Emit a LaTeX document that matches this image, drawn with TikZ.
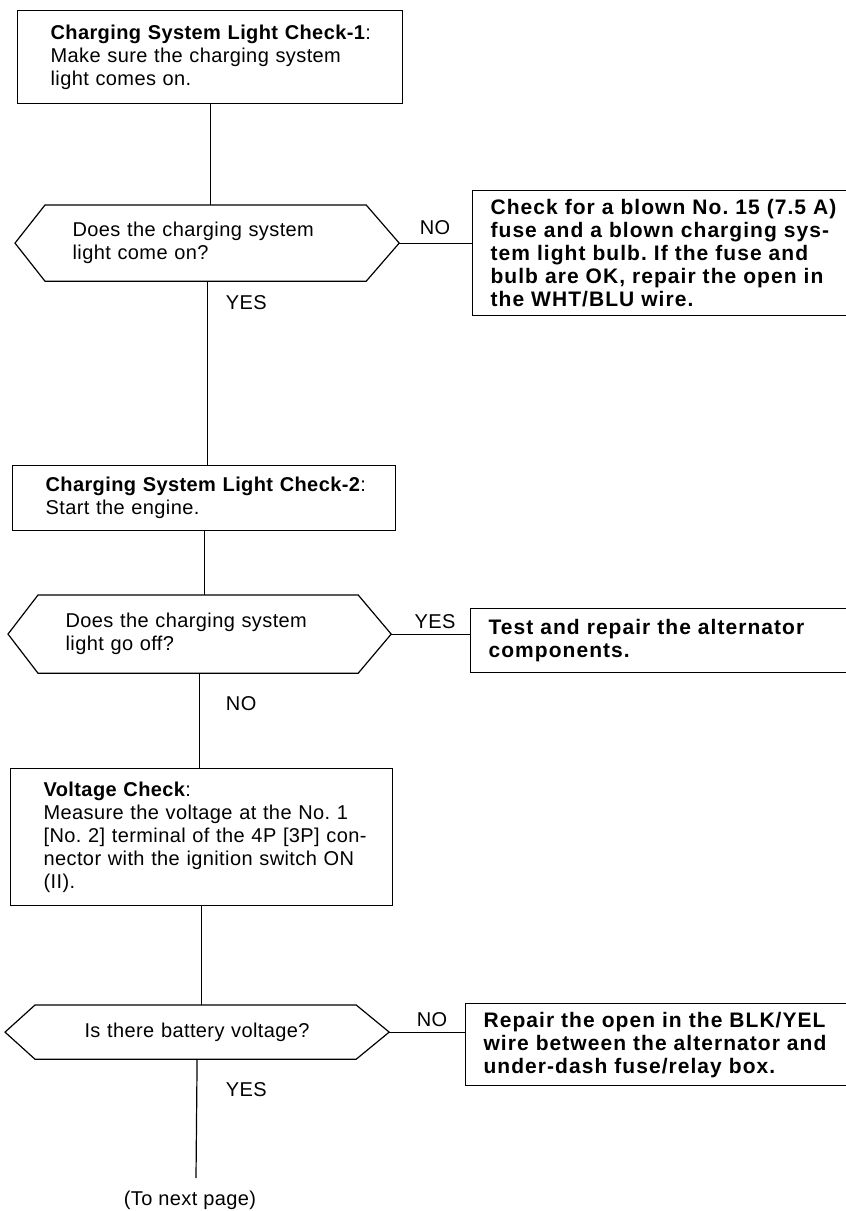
\documentclass[tikz,border=0pt]{standalone}
\usepackage{fontspec}
\setmainfont[LetterSpace=2]{Liberation Sans}
\frenchspacing
\newcommand\actionfont{\fontsize{21}{23}\selectfont\bfseries\addfontfeatures{LetterSpace=5}}
\newcommand\askshape[1]{\draw ([xshift=30pt]#1.north west) -- ([xshift=-33pt]#1.north east) -- (#1.east)
  -- ([xshift=-33pt]#1.south east) -- ([xshift=30pt]#1.south west) -- (#1.west) -- cycle;}

\begin{document}
\begin{tikzpicture}[x=1pt, y=-1pt, line width=1.2pt,
  every node/.style={font=\fontsize{20}{23}\selectfont},
  stepbox/.style={draw, anchor=north west, align=left, inner xsep=33pt, inner ysep=0pt},
  askbox/.style={anchor=north west, align=left, inner xsep=57pt, inner ysep=0pt},
  fixbox/.style={draw, anchor=north west, align=left, inner xsep=18pt, inner ysep=0pt,
    text width=370pt, font=\actionfont}]
  \useasboundingbox (0,0) rectangle (846,1211);
  \clip (0,0) rectangle (846,1211);

  \node[stepbox, text width=319pt, minimum height=93pt] (check1) at (17,10)
    {\mbox{\textbf{Charging System Light Check-1}:}\\Make sure the charging system\\light comes on.};
  \node[askbox, text width=269pt, minimum width=383pt, minimum height=75pt] (ask1) at (15,205)
    {Does the charging system\\light come on?};
  \askshape{ask1}
  \node[fixbox, minimum height=125pt] (fuse) at (472,190)
    {Check for a blown No. 15 (7.5 A)\\fuse and a blown charging sys-\\tem light bulb. If the fuse and\\bulb are OK, repair the open in\\the WHT/BLU wire.};

  \node[stepbox, text width=317pt, minimum height=65pt] (check2) at (12,465)
    {\mbox{\textbf{Charging System Light Check-2}:}\\Start the engine.};
  \node[askbox, text width=268pt, minimum width=382pt, minimum height=77pt] (ask2) at (8,595)
    {Does the charging system\\light go off?};
  \askshape{ask2}
  \node[fixbox, minimum height=64pt] (alt) at (470,608)
    {Test and repair the alternator\\components.};

  \node[stepbox, text width=316pt, minimum height=137pt] (volt) at (10,768)
    {\textbf{Voltage Check}:\\\mbox{Measure the voltage at the No. 1}\\\mbox{[No. 2] terminal of the 4P [3P] con-}\\\mbox{nector with the ignition switch ON}\\(II).};
  \node[askbox, align=center, text width=269pt, minimum width=383pt, minimum height=53pt] (ask3) at (5,1005)
    {Is there battery voltage?};
  \askshape{ask3}
  \node[fixbox, minimum height=82pt] (wire) at (465,1003)
    {Repair the open in the BLK/YEL\\wire between the alternator and\\under-dash fuse/relay box.};

  \coordinate (tail) at (196,1178);
  \node (next) at (190,1200) {(To next page)};

  \draw (check1.south) -- (check1.south |- ask1.north);
  \draw (ask1.south) -- (ask1.south |- check2.north);
  \draw (check2.south) -- (check2.south |- ask2.north);
  \draw (ask2.south) -- (ask2.south |- volt.north);
  \draw (volt.south) -- (volt.south |- ask3.north);
  \draw (ask3.south) -- (tail);
  \draw (ask1.east) -- (ask1.east -| fuse.west);
  \draw (ask2.east) -- (ask2.east -| alt.west);
  \draw (ask3.east) -- (ask3.east -| wire.west);

  \node (no1) at (435,228) {NO};
  \node[anchor=west] (yes1) at (222,303) {YES};
  \node (yes2) at (435,622) {YES};
  \node[anchor=west] (no2) at (222,704) {NO};
  \node (no3) at (432,1020) {NO};
  \node[anchor=west] (yes3) at (222,1090) {YES};
\end{tikzpicture}
\end{document}
